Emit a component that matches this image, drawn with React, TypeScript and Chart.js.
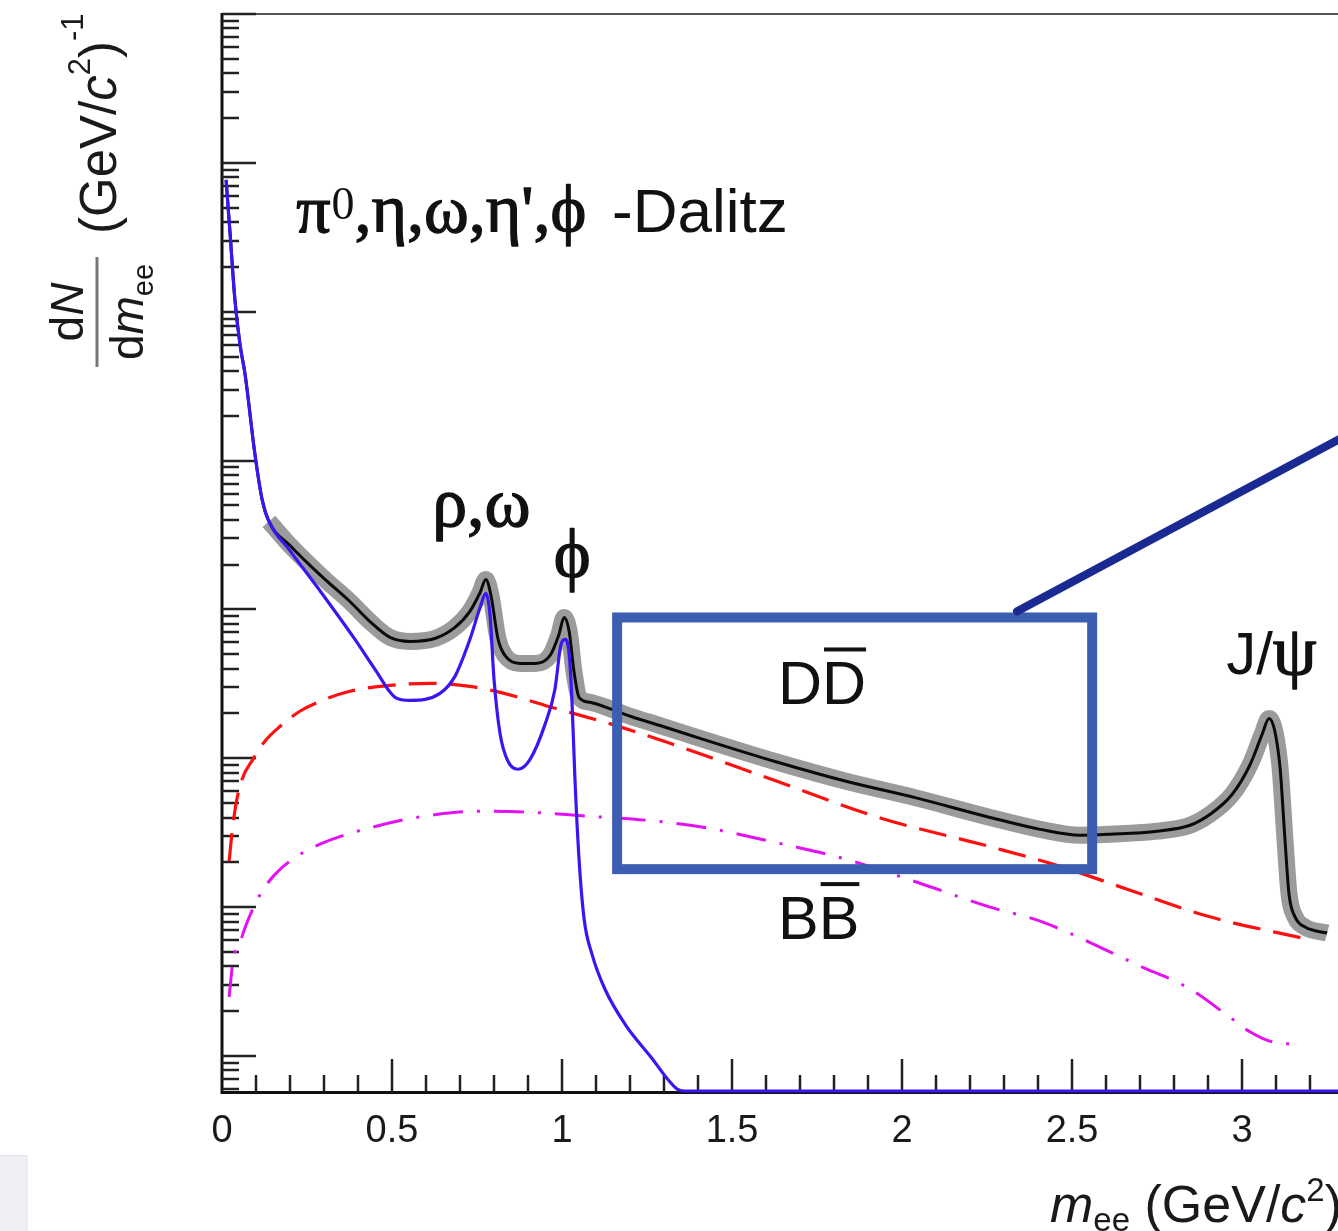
import React, { useEffect, useRef } from 'react';
import { Chart, registerables } from 'chart.js';

Chart.register(...registerables);

// ---- data (m_ee in GeV/c^2, dN/dm_ee in (GeV/c^2)^-1) ----
const dalitzMass = [0.012, 0.024, 0.038, 0.053, 0.068, 0.097, 0.118, 0.138, 0.197, 0.294, 0.391, 0.45, 0.509, 0.553, 0.641, 0.685, 0.729, 0.759, 0.776, 0.788, 0.8, 0.818, 0.841, 0.871, 0.906, 0.95, 0.979, 0.997, 1.009, 1.021, 1.029, 1.038, 1.05, 1.065, 1.088, 1.126, 1.185, 1.259, 1.338, 1.36, 3.282];
const dalitzYield = [0.769, 0.329, 0.12, 0.0601, 0.0378, 0.01097, 0.00547, 0.0039, 0.00253, 0.00128, 6.29e-4, 3.96e-4, 2.57e-4, 2.45e-4, 2.73e-4, 3.55e-4, 6.29e-4, 1.03e-3, 1.28e-3, 9.25e-4, 3.39e-4, 1.45e-4, 9.55e-5, 8.44e-5, 9.84e-5, 1.69e-4, 2.9e-4, 5.82e-4, 6.29e-4, 4.99e-4, 2.49e-4, 7.23e-5, 2.1e-5, 8.3e-6, 4.84e-6, 2.82e-6, 1.64e-6, 1.0e-6, 6.01e-7, 5.82e-7, 5.82e-7];

const totalMass = [0.012, 0.024, 0.038, 0.053, 0.068, 0.097, 0.118, 0.138, 0.2, 0.294, 0.376, 0.441, 0.494, 0.553, 0.626, 0.685, 0.729, 0.759, 0.776, 0.791, 0.812, 0.832, 0.876, 0.921, 0.965, 0.991, 1.006, 1.021, 1.035, 1.05, 1.082, 1.147, 1.203, 1.288, 1.415, 1.624, 1.835, 2.044, 2.256, 2.406, 2.524, 2.612, 2.75, 2.847, 2.906, 2.971, 3.024, 3.059, 3.079, 3.097, 3.112, 3.126, 3.138, 3.156, 3.185, 3.25];
const totalYield = [0.769, 0.329, 0.12, 0.0601, 0.0378, 0.01097, 0.00547, 0.0039, 0.00269, 0.00166, 0.00113, 8.05e-4, 6.49e-4, 6.1e-4, 6.38e-4, 7.57e-4, 9.7e-4, 1.3e-3, 1.59e-3, 1.24e-3, 6.29e-4, 4.91e-4, 4.34e-4, 4.34e-4, 4.91e-4, 6.79e-4, 8.83e-4, 7.11e-4, 3.84e-4, 2.57e-4, 2.38e-4, 2.13e-4, 1.91e-4, 1.66e-4, 1.34e-4, 9.55e-5, 7.01e-5, 5.4e-5, 4.02e-5, 3.33e-5, 3.04e-5, 3.09e-5, 3.24e-5, 3.55e-5, 4.21e-5, 5.73e-5, 9.12e-5, 1.45e-4, 1.85e-4, 1.49e-4, 8.44e-5, 2.86e-5, 1.22e-5, 8.57e-6, 7.35e-6, 6.7e-6];
const bandStartIndex = 7;

const charmMass = [0.021, 0.029, 0.041, 0.059, 0.091, 0.126, 0.171, 0.229, 0.288, 0.376, 0.494, 0.612, 0.729, 0.818, 0.979, 1.147, 1.309, 1.624, 1.938, 2.256, 2.465, 2.662, 2.897, 3.191];
const charmYield = [2.04e-5, 3.09e-5, 4.91e-5, 7.23e-5, 9.84e-5, 1.3e-4, 1.64e-4, 2.07e-4, 2.41e-4, 2.82e-4, 3.09e-4, 3.19e-4, 3.04e-4, 2.77e-4, 2.17e-4, 1.69e-4, 1.28e-4, 7.11e-5, 3.96e-5, 2.56e-5, 1.88e-5, 1.32e-5, 8.71e-6, 6.1e-6];

const bottomMass = [0.021, 0.032, 0.053, 0.074, 0.118, 0.156, 0.2, 0.288, 0.465, 0.612, 0.759, 0.906, 1.079, 1.247, 1.415, 1.624, 1.835, 2.044, 2.259, 2.406, 2.7, 2.847, 2.956, 3.024, 3.091, 3.162];
const bottomYield = [2.49e-6, 4.28e-6, 5.82e-6, 7.93e-6, 1.28e-5, 1.66e-5, 2.04e-5, 2.65e-5, 3.55e-5, 4.14e-5, 4.41e-5, 4.34e-5, 4.08e-5, 3.84e-5, 3.44e-5, 2.73e-5, 2.1e-5, 1.47e-5, 1.0e-5, 8.05e-6, 4.02e-6, 2.82e-6, 1.88e-6, 1.45e-6, 1.24e-6, 1.2e-6];

const xTickValues = [0, 0.5, 1, 1.5, 2, 2.5, 3];
const xTickLabels = ['0', '0.5', '1', '1.5', '2', '2.5', '3'];
const xMin = 0;
const xMax = 3.282;
const yMin = 5.82e-7;
const yMax = 10;

const SANS = '"Liberation Sans", Arial, Helvetica, sans-serif';
const SERIF = '"Liberation Serif", "Times New Roman", serif';

const pts = (xs: number[], ys: number[]) => xs.map((x, i) => ({ x, y: ys[i] }));

const decorPlugin = {
  id: 'decor',
  beforeDatasetsDraw(chart: any) {
    const { ctx, chartArea: a, scales } = chart;
    const xs = scales.x;
    const ys = scales.y;
    ctx.save();
    // faint box at bottom-left corner
    ctx.fillStyle = '#eef0f4';
    ctx.fillRect(0, 1155, 27, 76);
    ctx.strokeStyle = '#dfe2e8';
    ctx.lineWidth = 1;
    ctx.strokeRect(-1, 1155.5, 28, 80);

    // frame
    ctx.strokeStyle = '#555';
    ctx.lineWidth = 2;
    ctx.beginPath();
    ctx.moveTo(a.left, a.top);
    ctx.lineTo(a.right, a.top);
    ctx.stroke();

    ctx.strokeStyle = '#111';
    ctx.lineWidth = 3;
    ctx.beginPath();
    ctx.moveTo(a.left, a.top - 1);
    ctx.lineTo(a.left, a.bottom + 1.5);
    ctx.lineTo(a.right, a.bottom + 1.5);
    ctx.stroke();

    // y ticks (inside)
    ctx.strokeStyle = '#222';
    ctx.lineWidth = 2.5;
    for (let k = -7; k <= 1; k++) {
      for (let m = 1; m <= 9; m++) {
        const v = m * Math.pow(10, k);
        if (v < yMin * 0.999 || v > yMax * 1.001) continue;
        const py = Math.round(ys.getPixelForValue(v));
        const len = m === 1 ? 34 : 17;
        ctx.beginPath();
        ctx.moveTo(a.left, py);
        ctx.lineTo(a.left + len, py);
        ctx.stroke();
      }
    }
    // x ticks (inside)
    for (let i = 1; i <= 32; i++) {
      const v = i / 10;
      const px = Math.round(xs.getPixelForValue(v));
      const len = i % 5 === 0 ? 32 : 16;
      ctx.beginPath();
      ctx.moveTo(px, a.bottom);
      ctx.lineTo(px, a.bottom - len);
      ctx.stroke();
    }

    // x tick labels
    ctx.fillStyle = '#1a1a1a';
    ctx.font = `38px ${SANS}`;
    ctx.textAlign = 'center';
    ctx.textBaseline = 'alphabetic';
    xTickValues.forEach((v, i) => {
      ctx.fillText(xTickLabels[i], xs.getPixelForValue(v), 1142);
    });

    // x axis title: m_ee (GeV/c^2), right aligned
    ctx.textAlign = 'left';
    const pieces: [string, string, number][] = [
      ['m', `italic 52px ${SANS}`, 0],
      ['ee', `33px ${SANS}`, 9],
      [' (GeV/', `52px ${SANS}`, 0],
      ['c', `italic 52px ${SANS}`, 0],
      ['2', `33px ${SANS}`, -21],
      [')', `52px ${SANS}`, 0],
    ];
    let total = 0;
    pieces.forEach(([t, f]) => { ctx.font = f; total += ctx.measureText(t).width; });
    let cx = 1342 - total;
    pieces.forEach(([t, f, dy]) => {
      ctx.font = f;
      ctx.fillText(t, cx, 1222 + dy);
      cx += ctx.measureText(t).width;
    });

    // y axis title (rotated)
    ctx.save();
    ctx.rotate(-Math.PI / 2);
    const drawSeq = (seq: [string, string, number][], center: number | null, start: number, base: number) => {
      let w = 0;
      seq.forEach(([t, f]) => { ctx.font = f; w += ctx.measureText(t).width; });
      let u = center !== null ? center - w / 2 : start;
      seq.forEach(([t, f, dv]) => {
        ctx.font = f;
        ctx.fillText(t, u, base + dv);
        u += ctx.measureText(t).width;
      });
    };
    drawSeq([['d', `46px ${SANS}`, 0], ['N', `italic 46px ${SANS}`, 0]], -312, 0, 83);
    drawSeq([['d', `46px ${SANS}`, 0], ['m', `italic 46px ${SANS}`, 0], ['ee', `29px ${SANS}`, 10]], -312, 0, 143);
    drawSeq([
      ['(GeV/', `51px ${SANS}`, 0],
      ['c', `italic 51px ${SANS}`, 0],
      ['2', `31px ${SANS}`, -26],
      [')', `51px ${SANS}`, 0],
      ['-1', `31px ${SANS}`, -33],
    ], null, -234, 116);
    ctx.restore();
    // fraction bar
    ctx.strokeStyle = '#777';
    ctx.lineWidth = 3;
    ctx.beginPath();
    ctx.moveTo(97, 257);
    ctx.lineTo(97, 367);
    ctx.stroke();

    ctx.restore();
  },
  afterDatasetsDraw(chart: any) {
    const { ctx, scales } = chart;
    const X = (v: number) => scales.x.getPixelForValue(v);
    const Y = (v: number) => scales.y.getPixelForValue(v);
    ctx.save();
    ctx.fillStyle = '#111';
    ctx.strokeStyle = '#111';
    ctx.lineWidth = 1.3;
    ctx.lineJoin = 'round';
    ctx.textBaseline = 'alphabetic';
    ctx.textAlign = 'left';
    const heavy = (t: string, x: number, y: number) => {
      ctx.fillText(t, x, y);
      ctx.strokeText(t, x, y);
    };

    // pi0, eta, omega, eta', phi -Dalitz
    let u = X(0.218);
    const by = Y(0.344);
    ctx.font = `68px ${SERIF}`;
    heavy('π', u, by);
    u += ctx.measureText('π').width + 1;
    ctx.font = `46px ${SERIF}`;
    ctx.fillText('0', u, by - 13);
    u += ctx.measureText('0').width;
    ctx.font = `68px ${SERIF}`;
    heavy(",η,ω,η',ϕ", u, by);
    ctx.font = `62px ${SANS}`;
    ctx.fillText('-Dalitz', X(1.147), by);

    // rho, omega and phi
    ctx.font = `70px ${SERIF}`;
    heavy('ρ,ω', X(0.618), Y(3.61e-3));
    ctx.textAlign = 'center';
    heavy('ϕ', X(1.03), Y(1.64e-3));

    // D Dbar / B Bbar
    ctx.textAlign = 'left';
    ctx.font = `61px ${SANS}`;
    const drawBar = (t: string, x0: number, yb: number) => {
      ctx.fillText(t, x0, yb);
      const w1 = ctx.measureText(t[0]).width;
      const w = ctx.measureText(t).width;
      ctx.fillRect(x0 + w1 + 2, yb - 57, w - w1 - 2, 4);
    };
    drawBar('DD', X(1.635), Y(2.3e-4));
    drawBar('BB', X(1.635), Y(6.1e-6));

    // J/psi
    const jx = X(2.953);
    const jy = Y(3.66e-4);
    ctx.font = `60px ${SANS}`;
    ctx.fillText('J/', jx, jy);
    const jw = ctx.measureText('J/').width;
    ctx.font = `70px ${SERIF}`;
    heavy('ψ', jx + jw, jy);

    // highlight box
    ctx.strokeStyle = '#3b5db2';
    ctx.lineWidth = 10;
    ctx.lineJoin = 'miter';
    const bx0 = X(1.162), bx1 = X(2.559), by0 = Y(8.83e-4), by1 = Y(1.8e-5);
    ctx.strokeRect(bx0, by0, bx1 - bx0, by1 - by0);

    // pointer line to zoom panel
    ctx.strokeStyle = '#1b2a92';
    ctx.lineWidth = 8;
    ctx.lineCap = 'round';
    ctx.beginPath();
    ctx.moveTo(X(2.338), Y(9.7e-4));
    ctx.lineTo(X(3.4), Y(0.0192));
    ctx.stroke();
    ctx.restore();
  },
};

export default function App() {
  const ref = useRef<HTMLCanvasElement>(null);
  useEffect(() => {
    const canvas = ref.current;
    if (!canvas) return;
    const common = {
      pointRadius: 0,
      fill: false,
      cubicInterpolationMode: 'monotone' as const,
      clip: false as any,
    };
    const chart = new Chart(canvas, {
      type: 'line',
      data: {
        datasets: [
          {
            label: 'band',
            data: pts(totalMass.slice(bandStartIndex), totalYield.slice(bandStartIndex)),
            borderColor: '#9b9b9b',
            borderWidth: 17,
            borderCapStyle: 'butt',
            borderJoinStyle: 'round',
            order: 6,
            ...common,
          },
          {
            label: 'bbbar',
            data: pts(bottomMass, bottomYield),
            borderColor: '#e312f2',
            borderWidth: 3,
            borderDash: [30, 14, 3, 14],
            order: 5,
            ...common,
          },
          {
            label: 'ccbar',
            data: pts(charmMass, charmYield),
            borderColor: '#ff1010',
            borderWidth: 3.2,
            borderDash: [28, 13],
            order: 4,
            ...common,
          },
          {
            label: 'total',
            data: pts(totalMass, totalYield),
            borderColor: '#0a0a0a',
            borderWidth: 3,
            order: 3,
            ...common,
          },
          {
            label: 'dalitz',
            data: pts(dalitzMass, dalitzYield),
            borderColor: '#3d14f2',
            borderWidth: 3.2,
            order: 2,
            ...common,
          },
        ],
      },
      options: {
        responsive: false,
        animation: false,
        devicePixelRatio: 1,
        layout: { padding: { left: 222, top: 14, right: 0, bottom: 1231 - 1091 } },
        plugins: { legend: { display: false }, tooltip: { enabled: false }, title: { display: false } },
        scales: {
          x: { type: 'linear', min: xMin, max: xMax, display: false },
          y: { type: 'logarithmic', min: yMin, max: yMax, display: false },
        },
      },
      plugins: [decorPlugin],
    } as any);
    return () => chart.destroy();
  }, []);
  return (
    <div style={{ position: 'absolute', left: 0, top: 0, width: 1338, height: 1231, background: '#fff', overflow: 'hidden' }}>
      <canvas ref={ref} width={1338} height={1231} style={{ display: 'block' }} />
    </div>
  );
}
